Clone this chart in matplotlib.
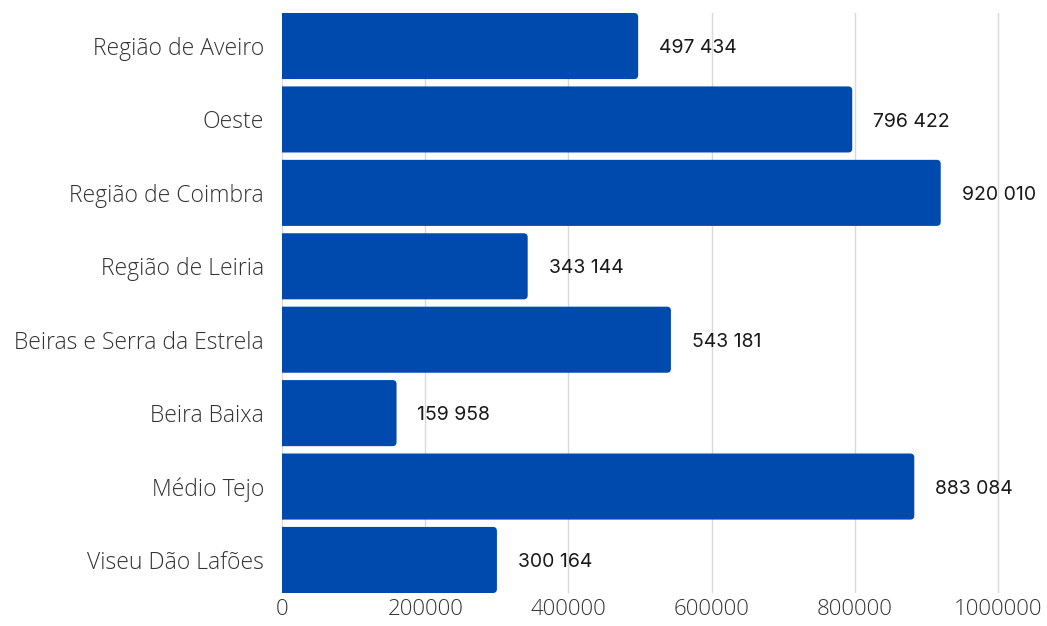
import matplotlib
matplotlib.use("Agg")
import matplotlib.pyplot as plt
from matplotlib.patches import FancyBboxPatch

# Population by region
regioes = ["Região de Aveiro", "Oeste", "Região de Coimbra", "Região de Leiria",
           "Beiras e Serra da Estrela", "Beira Baixa", "Médio Tejo", "Viseu Dão Lafões"]
valores = [497434, 796422, 920010, 343144, 543181, 159958, 883084, 300164]
ticks_x = [0, 200000, 400000, 600000, 800000, 1000000]

azul = "#004AAD"
W, H = 1047, 626

fig = plt.figure(figsize=(W / 100, H / 100), dpi=100)
ax = fig.add_axes([282 / W, (H - 593) / H, (1040 - 282) / W, (593 - 13) / H])

x_max = (1040 - 282) / 716 * 1e6
ax.set_xlim(0, x_max)
ax.set_ylim(7.45, -0.45)

pos = list(range(len(regioes)))
bars = ax.barh(pos, valores, height=0.9, color=azul, zorder=2)

# rounded right corners: swap each rectangle for a rounded box that starts left of the axis
px_x = x_max / (1040 - 282)
px_y = 7.9 / (593 - 13)
r = 4 * px_x
for b in bars:
    x0, y0 = b.get_x(), b.get_y()
    w, h = b.get_width(), b.get_height()
    b.set_visible(False)
    p = FancyBboxPatch((x0 - 3 * r, y0), w + 3 * r, h,
                       boxstyle=f"round,pad=0,rounding_size={r}",
                       mutation_aspect=px_y / px_x,
                       facecolor=azul, edgecolor="none", zorder=2)
    ax.add_patch(p)

for i, v in enumerate(valores):
    txt = f"{v:,}".replace(",", " ")
    ax.annotate(txt, (v, i), xytext=(15, -1.5), textcoords="offset points",
                va="center", ha="left", fontsize=14, family="Inter",
                color="#1a1a1a")

for t in ticks_x:
    ax.axvline(t, color="#d9d9d9", lw=1, zorder=1)

ax.set_xticks(ticks_x)
ax.set_xticklabels([str(t) for t in ticks_x], fontsize=16, family="Open Sans",
                   fontweight="light", color="#333333")
ax.set_yticks(pos)
ax.set_yticklabels(regioes, fontsize=16.5, family="Open Sans",
                   fontweight="light", color="#333333")
ax.tick_params(axis="both", length=0)
ax.tick_params(axis="y", pad=13)
ax.tick_params(axis="x", pad=4)
for s in ax.spines.values():
    s.set_visible(False)

fig.savefig("out.png", dpi=100, facecolor="white")
